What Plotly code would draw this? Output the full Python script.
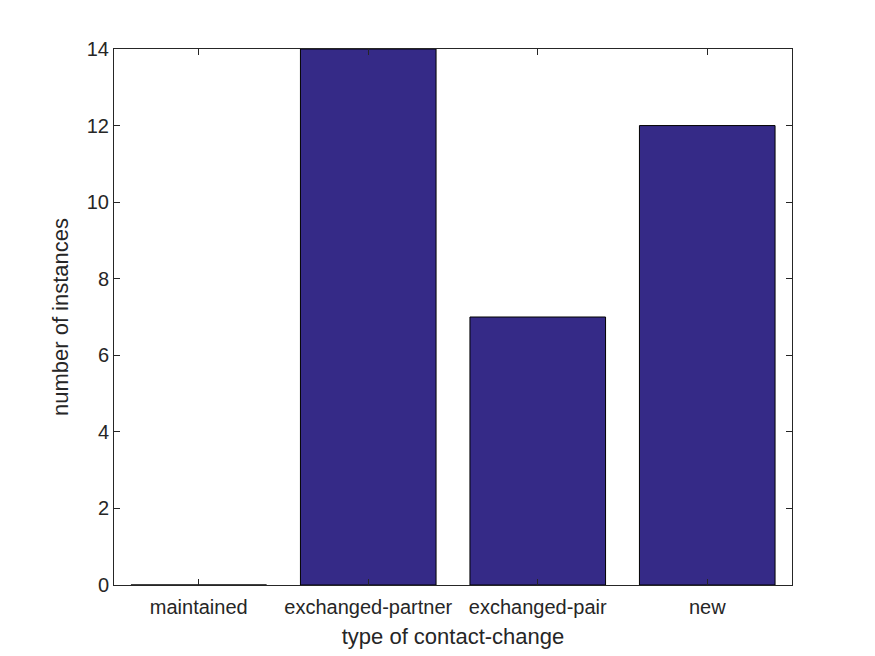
import plotly.graph_objects as go

categories = ["maintained", "exchanged-partner", "exchanged-pair", "new"]
counts = [0, 14, 7, 12]
y_ticks = [0, 2, 4, 6, 8, 10, 12, 14]

fig = go.Figure()
fig.add_trace(go.Bar(
    x=list(range(len(categories))), y=counts, width=0.8,
    marker=dict(color="#352a87", line=dict(color="black", width=1)),
))

FONT = "Liberation Sans, Arial, sans-serif"
axis_common = dict(
    showline=True, linecolor="#262626", linewidth=1, mirror="ticks",
    ticks="inside", ticklen=6, tickcolor="#262626", showgrid=False, zeroline=False,
    tickfont=dict(family=FONT, size=20, color="#262626"),
)
fig.update_layout(
    width=875, height=656, plot_bgcolor="white", paper_bgcolor="white",
    margin=dict(l=106, r=91, t=41, b=79), showlegend=False,
    xaxis=dict(range=[-0.5, 3.5], tickmode="array", tickvals=list(range(len(categories))),
               ticktext=categories, ticklabelstandoff=4,
               title=dict(text="type of contact-change", standoff=11,
                          font=dict(family=FONT, size=22, color="#262626")),
               **axis_common),
    yaxis=dict(range=[0, 14], tickmode="array", tickvals=y_ticks,
               title=dict(text="number of instances", standoff=12,
                          font=dict(family=FONT, size=22, color="#262626")),
               **axis_common),
)
fig.write_html("out.html")
